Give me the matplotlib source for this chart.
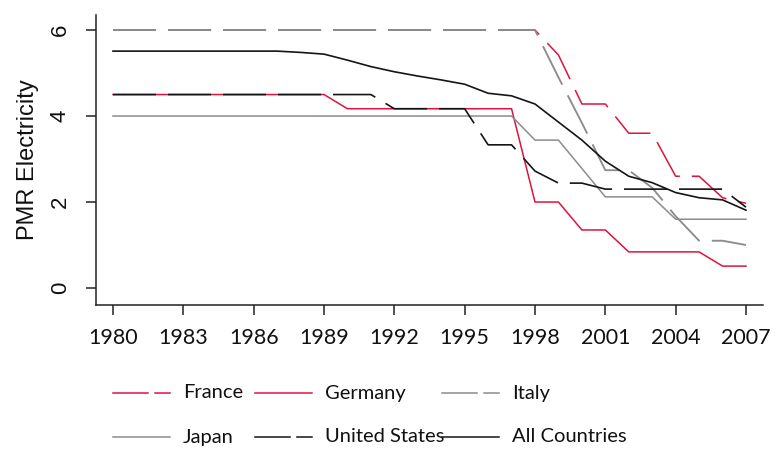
import matplotlib
matplotlib.use("Agg")
import matplotlib.pyplot as plt
from matplotlib.lines import Line2D

# PMR electricity indicator by country
years = list(range(1980, 2008))
france = [6.0, 6.0, 6.0, 6.0, 6.0, 6.0, 6.0, 6.0, 6.0, 6.0,
          6.0, 6.0, 6.0, 6.0, 6.0, 6.0, 6.0, 6.0, 6.0, 5.42,
          4.28, 4.28, 3.6, 3.6, 2.6, 2.6, 2.1, 1.97]
germany = [4.5, 4.5, 4.5, 4.5, 4.5, 4.5, 4.5, 4.5, 4.5, 4.5,
           4.17, 4.17, 4.17, 4.17, 4.17, 4.17, 4.17, 4.17, 2.0, 2.0,
           1.35, 1.35, 0.84, 0.84, 0.84, 0.84, 0.51, 0.51]
italy = [6.0, 6.0, 6.0, 6.0, 6.0, 6.0, 6.0, 6.0, 6.0, 6.0,
         6.0, 6.0, 6.0, 6.0, 6.0, 6.0, 6.0, 6.0, 6.0, 4.9,
         3.84, 2.74, 2.74, 2.33, 1.67, 1.1, 1.1, 1.0]
japan = [4.0, 4.0, 4.0, 4.0, 4.0, 4.0, 4.0, 4.0, 4.0, 4.0,
         4.0, 4.0, 4.0, 4.0, 4.0, 4.0, 4.0, 4.0, 3.44, 3.44,
         2.78, 2.12, 2.12, 2.12, 1.6, 1.6, 1.6, 1.6]
united_states = [4.5, 4.5, 4.5, 4.5, 4.5, 4.5, 4.5, 4.5, 4.5, 4.5,
                 4.5, 4.5, 4.17, 4.17, 4.17, 4.17, 3.33, 3.33, 2.72, 2.44,
                 2.44, 2.3, 2.3, 2.3, 2.3, 2.3, 2.3, 1.88]
all_countries = [5.51, 5.51, 5.51, 5.51, 5.51, 5.51, 5.51, 5.51, 5.48, 5.44,
                 5.3, 5.15, 5.03, 4.93, 4.84, 4.74, 4.53, 4.47, 4.28, 3.86,
                 3.44, 2.95, 2.6, 2.45, 2.22, 2.1, 2.05, 1.81]

xticks = list(range(1980, 2008, 3))
yticks = [0, 2, 4, 6]

RED = "#dc143c"
GRAY = "#8c8c8c"
BLACK = "#151515"
DASH = (0, (31, 8.6))

plt.rcParams["lines.scale_dashes"] = False

series = [
    ("France", france, RED, DASH, 1.1),
    ("Germany", germany, RED, "-", 1.1),
    ("Italy", italy, GRAY, DASH, 1.35),
    ("Japan", japan, GRAY, "-", 1.1),
    ("United States", united_states, BLACK, DASH, 1.2),
    ("All Countries", all_countries, BLACK, "-", 1.2),
]

fig = plt.figure(figsize=(7.78, 4.51), dpi=100)
W, H = 778, 451
ax = fig.add_axes([96 / W, (H - 305) / H, (763 - 96) / W, (305 - 15) / H])

for name, vals, col, ls, lw in series:
    ax.plot(years, vals, color=col, linestyle=ls, linewidth=lw, label=name)

ax.set_xlim(1979.275, 2007.725)
ax.set_ylim(-0.395, 6.35)

for s in ["top", "right"]:
    ax.spines[s].set_visible(False)
for s in ["left", "bottom"]:
    ax.spines[s].set_linewidth(1.1)
    ax.spines[s].set_color("#222222")

ax.set_xticks(xticks)
ax.set_xticklabels([str(x) for x in xticks], fontfamily="Lato", fontsize=15.5)
ax.set_yticks(yticks)
ax.set_yticklabels([str(y) for y in yticks], rotation=90, va="center",
                   fontfamily="Liberation Sans", fontsize=16)
ax.tick_params(axis="both", direction="out", length=7.2, width=1.1,
               color="#222222", labelcolor="#111111")
ax.tick_params(axis="x", pad=9)
ax.tick_params(axis="y", pad=11)
ax.set_ylabel("PMR Electricity", fontfamily="Liberation Sans", fontsize=17,
              color="#111111", labelpad=8)

# legend below the plot, 3 columns x 2 rows
leg_x = [113, 255, 442]
leg_y = [393, 437]
for i, (name, vals, col, ls, lw) in enumerate(series):
    r, c = divmod(i, 3)
    x0 = leg_x[c]
    y0 = H - leg_y[r]
    if ls == "-":
        fig.add_artist(Line2D([x0 / W, (x0 + 57) / W], [y0 / H, y0 / H],
                              color=col, linewidth=1.1))
    else:
        fig.add_artist(Line2D([x0 / W, (x0 + 35) / W], [y0 / H, y0 / H],
                              color=col, linewidth=1.1))
        fig.add_artist(Line2D([(x0 + 42) / W, (x0 + 57) / W], [y0 / H, y0 / H],
                              color=col, linewidth=1.1))
    fig.text((x0 + 70) / W, y0 / H, name, fontfamily="Lato", fontsize=14.5,
             va="center", ha="left", color="#111111")

fig.savefig("out.png", dpi=100)
